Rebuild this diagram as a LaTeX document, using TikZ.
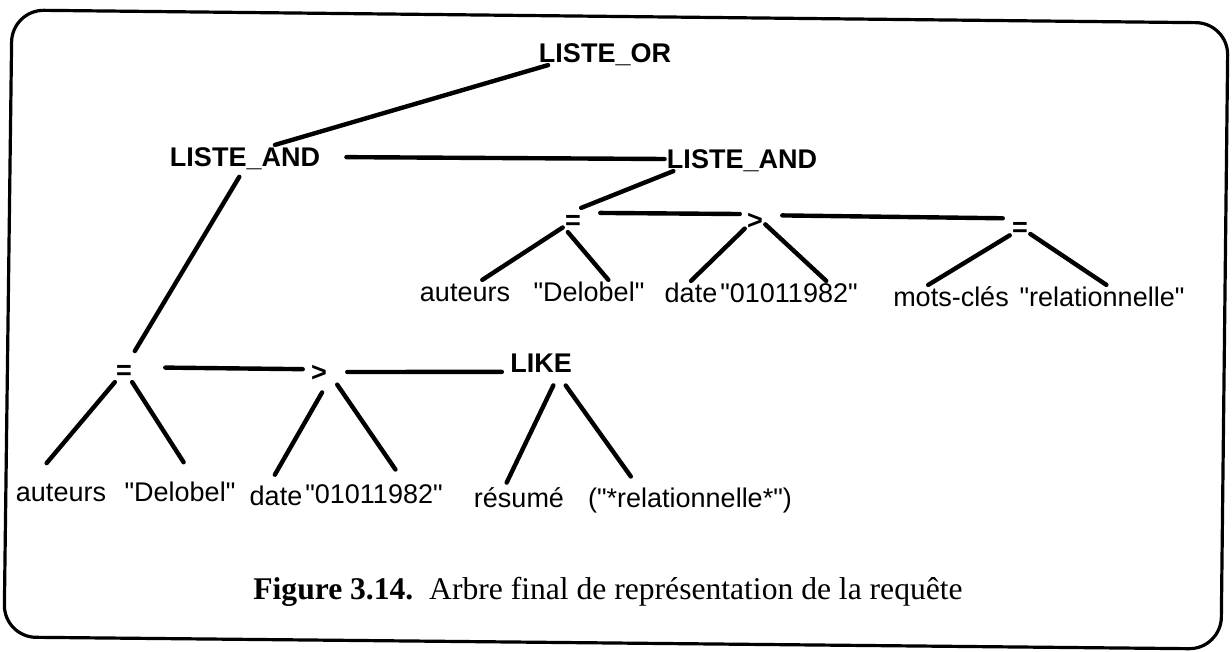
\documentclass[tikz,border=0pt]{standalone}
\usepackage{fontspec}
\setmainfont{Liberation Serif}
\newfontfamily\arial{Liberation Sans}
\usetikzlibrary{positioning}
\tikzset{
    lbl/.style={font=\arial\fontsize{13.5}{16}\selectfont, text height=9.7pt, text depth=0pt, inner sep=1pt},
    op/.style={lbl, font=\arial\bfseries\fontsize{13.5}{16}\selectfont},
    edge/.style={line width=2.2pt, line cap=round}
}
\begin{document}
\begin{tikzpicture}[x=0.5pt, y=-0.5pt]
    \useasboundingbox (0,0) rectangle (1232,652);
    \draw[line width=1.6pt, rounded corners=16pt]
    (620,16.5) -- (1228,23) -- (1221,649) -- (4,637) -- (12,10) -- cycle;
    \node[op] (or) at (605,53) {LISTE\_OR};
    \node[op] (andl) at (245,157) {LISTE\_AND};
    \node[op] (andr) at (742,159) {LISTE\_AND};
    \node[op] (eqm) at (573,220) {=};
    \node[op] (gtm) at (755,220) {>};
    \node[op] (eqr) at (1020,227) {=};
    \node[lbl] (aut1) at (465,292) {auteurs};
    \node[lbl] (del1) at (589,292) {"Delobel"};
    \node[lbl] (dat1) at (691,293) {date};
    \node[lbl] (num1) at (789,293) {"01011982"};
    \node[lbl] (mot) at (951,297) {mots-clés};
    \node[lbl] (rel) at (1102,297) {"relationnelle"};
    \node[op] (eql) at (124,370) {=};
    \node[op] (gtl) at (319,372) {>};
    \node[op] (like) at (541,363) {LIKE};
    \node[lbl] (aut2) at (61,492) {auteurs};
    \node[lbl] (del2) at (180,492) {"Delobel"};
    \node[lbl] (dat2) at (276,496) {date};
    \node[lbl] (num2) at (374,494) {"01011982"};
    \node[lbl] (res) at (519,498) {résumé};
    \node[lbl] (pat) at (690,498) {("*relationnelle*")};
    \node[anchor=base, inner sep=0pt, font=\fontsize{15.8}{19}\selectfont] (cap) at (608,599)
    {\textbf{Figure 3.14.}~~Arbre final de représentation de la requête};
    \draw[edge] (or.192) -- (andl.22);
    \draw[edge, shorten <=12pt] (andl.east) -- (andr.west);
    \draw[edge] (andr.190) -- (eqm.56);
    \draw[edge, shorten <=8.5pt, shorten >=2.5pt] (eqm.35) -- (gtm.150);
    \draw[edge, shorten <=8.5pt, shorten >=3.5pt] (gtm.25) -- (eqr.140);
    \draw[edge]
    (eqm.216) -- (aut1.35) (eqm.247) -- (del1.32)
    (gtm.220) -- (dat1.north) (gtm.-23) -- (num1.18)
    (eqr.219) -- (mot.152) (eqr.-34) -- (rel.70);
    \draw[edge, shorten <=4.5pt, shorten >=4pt] (andl.265) -- (eql.61);
    \draw[edge, shorten <=15.5pt, shorten >=3pt] (eql.15) -- (gtl.165);
    \draw[edge, shorten <=9pt, shorten >=3pt] (gtl.east) -- (like.195);
    \draw[edge, shorten >=11pt] (eql.233) -- (aut2.157);
    \draw[edge, shorten >=10.5pt] (eql.304) -- (del2.39);
    \draw[edge, shorten <=4.8pt, shorten >=5.3pt] (gtl.303) -- (dat2.118);
    \draw[edge, shorten <=7pt, shorten >=7.5pt] (gtl.-6) -- (num2.22);
    \draw[edge, shorten <=5.7pt, shorten >=1.8pt] (like.325) -- (res.139);
    \draw[edge, shorten <=6.4pt, shorten >=5.8pt] (like.325) -- (pat.167);
\end{tikzpicture}
\end{document}
